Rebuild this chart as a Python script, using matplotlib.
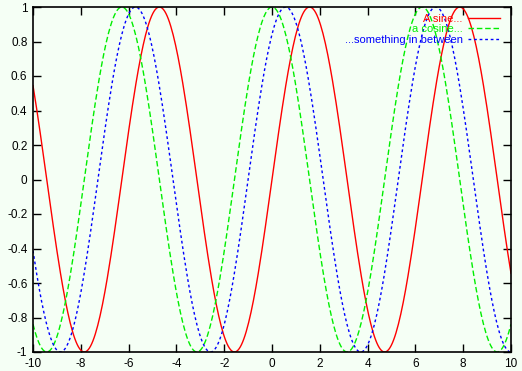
import numpy as np
import matplotlib
matplotlib.use("Agg")
import matplotlib.pyplot as plt

# function plot: y = sin(x + phase) over x range
x_range = [-10, 10]
n_samples = 400
labels = ["A sine...", "a cosine...", "...something in between"]
phases = [0.0, np.pi / 2, 1.0]
colors = ["#ff0000", "#00ee00", "#0000ff"]
styles = ["-", (0, (4, 2)), (0, (2, 2))]

x_ticks = list(range(-10, 11, 2))
y_ticks = [-1, -0.8, -0.6, -0.4, -0.2, 0, 0.2, 0.4, 0.6, 0.8, 1]
y_tick_labels = ["-1", "-0.8", "-0.6", "-0.4", "-0.2", "0", "0.2", "0.4", "0.6", "0.8", "1"]

bg = "#f5fff5"
plt.rcParams['font.family'] = ['Liberation Sans', 'DejaVu Sans']
plt.rcParams['axes.unicode_minus'] = False

fig = plt.figure(figsize=(5.22, 3.71), dpi=100, facecolor=bg)
ax = fig.add_axes([33 / 522, 19 / 371, 478 / 522, 345 / 371])
ax.set_facecolor(bg)

x = np.linspace(x_range[0], x_range[1], n_samples)
for lab, ph, c, ls in zip(labels, phases, colors, styles):
    ax.plot(x, np.sin(x + ph), color=c, linestyle=ls, linewidth=1, label=lab)

ax.set_xlim(x_range)
ax.set_ylim(-1, 1)
ax.set_xticks(x_ticks)
ax.set_xticklabels([str(t) for t in x_ticks])
ax.set_yticks(y_ticks)
ax.set_yticklabels(y_tick_labels)
ax.tick_params(direction="in", length=6, width=1, top=True, right=True,
               labelsize=8.5, pad=4, colors="black")
for s in ax.spines.values():
    s.set_linewidth(1.2)

leg = ax.legend(loc="upper right", markerfirst=False, frameon=False,
                labelcolor="linecolor", fontsize=8, handlelength=2.9,
                handletextpad=0.45, labelspacing=0.05, borderaxespad=0,
                borderpad=0, bbox_to_anchor=(0.977, 0.981))
for t in leg.get_texts():
    t.set_ha("right")

fig.savefig("out.png", dpi=100, facecolor=bg)
